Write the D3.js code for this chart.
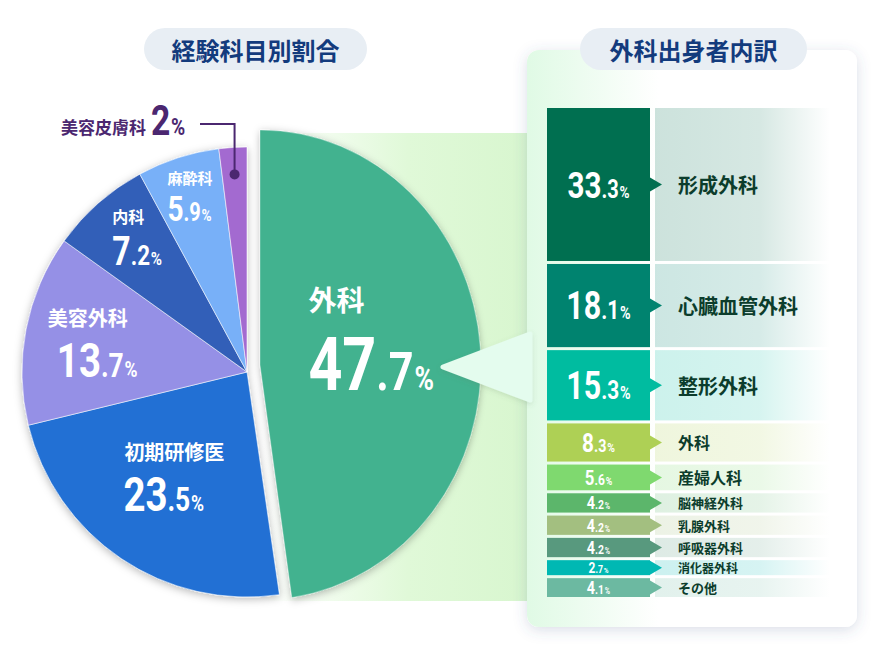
<!DOCTYPE html>
<html><head><meta charset="utf-8">
<script src="https://cdn.jsdelivr.net/npm/d3@7"></script>
<style>
html,body{margin:0;padding:0;background:#fff;}
svg{display:block;font-family:"Noto Sans CJK JP","Noto Sans",sans-serif;}
</style></head><body>
<svg id="chart" width="880" height="660"></svg>
<script>
// ---------- data ----------
const titleLeft = "経験科目別割合";
const titleRight = "外科出身者内訳";
const pieCategories = ["外科", "初期研修医", "美容外科", "内科", "麻酔科", "美容皮膚科"];
const pieValues = [47.7, 23.5, 13.7, 7.2, 5.9, 2];
const pieColors = ["#42b28f", "#2170d4", "#9590e6", "#325eb8", "#78b0f8", "#a36ad0"];
const subCategories = ["形成外科", "心臓血管外科", "整形外科", "外科", "産婦人科", "脳神経外科", "乳腺外科", "呼吸器外科", "消化器外科", "その他"];
const subValues = [33.3, 18.1, 15.3, 8.3, 5.6, 4.2, 4.2, 4.2, 2.7, 4.1];
const subColors = ["#006f50", "#00836f", "#00bca0", "#aed055", "#7fd96f", "#5cb66b", "#a3bf80", "#58997e", "#00b8b3", "#6cb9a1"];

// ---------- styles ----------
const NUMFONT = "Roboto, 'Noto Sans', sans-serif";
const NUM_SX = 0.8;
const pieLabelStyle = [
  {r: 122, lx: -66, ly: -45, nx: -66, ny: 34, ls: 28, ns: [74, 54, 33]},
  {r: 128, lx: -51, ly: -18, nx: -52, ny: 33, ls: 20, ns: [48, 33, 22]},
  {r: 157, lx: -45, ly: -16, nx: -36, ny: 35, ls: 20, ns: [48, 33, 22]},
  {r: 178, lx: -17, ly: -15.5, nx: -17, ny: 26.5, ls: 16, ns: [40, 28, 19]},
  {r: 185, lx: -23, ly: -12, nx: -23, ny: 25, ls: 15, ns: [35, 25, 17]},
  {r: 198}
];
const subNumSize = [[37,25,17],[38,26,18],[38,26,18],[26,18,13],[21,15,11],[18,13,9],[18,13,9],[18,13,9],[15,11,8],[18,13,9]];
const subLabelSize = [20, 20, 20, 16, 16, 13, 13, 13, 12, 13];

const svg = d3.select("#chart");
const defs = svg.append("defs");

function addShadow(id, dy, sd, color, op) {
  const f = defs.append("filter").attr("id", id).attr("x", "-20%").attr("y", "-20%").attr("width", "140%").attr("height", "140%");
  f.append("feDropShadow").attr("dx", 0).attr("dy", dy).attr("stdDeviation", sd)
    .attr("flood-color", color).attr("flood-opacity", op);
}
addShadow("shPie", 2, 4, "#000", 0.28);
addShadow("shPanel", 3, 7, "#4a5a8a", 0.2);
addShadow("shSmall", 2, 2.5, "#5a7a60", 0.18);

function linGrad(id, stops) {
  const g = defs.append("linearGradient").attr("id", id).attr("x1", 0).attr("x2", 1).attr("y1", 0).attr("y2", 0);
  stops.forEach(s => g.append("stop").attr("offset", s[0]).attr("stop-color", s[1]).attr("stop-opacity", s[2] == null ? 1 : s[2]));
}
linGrad("gBand", [[0, "#ffffff"], [0.55, "#e0f9d8"], [1, "#d8f6cf"]]);
linGrad("gPanel", [[0, "#e0fae5"], [0.4, "#ffffff"]]);

function pct(g, x, y, v, sizes, anchor, color) {
  const parts = String(v).split(".");
  const t = g.append("text")
    .attr("transform", `translate(${x},${y}) scale(${NUM_SX},1)`)
    .attr("text-anchor", anchor).attr("fill", color)
    .attr("font-family", NUMFONT).attr("font-weight", 700);
  t.append("tspan").attr("font-size", sizes[0]).text(parts[0]);
  if (parts[1]) t.append("tspan").attr("font-size", sizes[1]).text("." + parts[1]);
  t.append("tspan").attr("font-size", sizes[2]).attr("dx", 1).text("%");
  return t;
}

// ---------- band behind exploded slice ----------
svg.append("rect").attr("x", 262).attr("y", 133).attr("width", 266).attr("height", 468).attr("fill", "url(#gBand)");

// ---------- right panel ----------
svg.append("rect").attr("x", 527).attr("y", 50).attr("width", 330).attr("height", 577).attr("rx", 12)
  .attr("fill", "#fff").attr("filter", "url(#shPanel)");
svg.append("rect").attr("x", 527).attr("y", 50).attr("width", 330).attr("height", 577).attr("rx", 12)
  .attr("fill", "url(#gPanel)");

// ---------- pie ----------
const pieData = pieCategories.map((c, i) => ({c, v: pieValues[i], col: pieColors[i], i}));
const arcs = d3.pie().sort(null).value(d => d.v).startAngle(0).endAngle(2 * Math.PI)(pieData);
const cx = 247, cy = 372, R = 225;
const arc = d3.arc().innerRadius(0).outerRadius(R);
const gPie = svg.append("g").attr("transform", `translate(${cx},${cy})`);
gPie.append("g").attr("filter", "url(#shPie)")
  .selectAll("path").data(arcs.slice(1)).join("path")
  .attr("d", arc).attr("fill", d => d.data.col)
  .attr("stroke", "rgba(255,255,255,0.55)").attr("stroke-width", 1);

// exploded slice
const ex = {x: 260, y: 365, R: 235, sx: 0.94};
const arcEx = d3.arc().innerRadius(0).outerRadius(ex.R);
svg.append("g").attr("transform", `translate(${ex.x},${ex.y}) scale(${ex.sx},1)`).attr("filter", "url(#shPie)")
  .selectAll("path").data(arcs.slice(0, 1)).join("path")
  .attr("d", arcEx).attr("fill", d => d.data.col)
  .attr("stroke", "rgba(255,255,255,0.35)").attr("stroke-width", 1);

// callout triangle
svg.append("path")
  .attr("d", d3.line()([[443, 367], [530, 334], [530, 400]]) + "Z")
  .attr("fill", "#e4fcee").attr("stroke", "#e4fcee").attr("stroke-width", 5).attr("stroke-linejoin", "round")
  .attr("filter", "url(#shSmall)");

// pie labels
arcs.forEach((a, i) => {
  const st = pieLabelStyle[i];
  if (i === pieCategories.length - 1) return;
  const la = d3.arc().innerRadius(st.r).outerRadius(st.r);
  let [px, py] = la.centroid(a);
  if (i === 0) { px = ex.x + px * ex.sx; py = ex.y + py; } else { px += cx; py += cy; }
  svg.append("text").attr("x", px + st.lx).attr("y", py + st.ly)
    .attr("fill", "#fff").attr("font-size", st.ls).attr("font-weight", 700).text(a.data.c);
  pct(svg, px + st.nx, py + st.ny, a.data.v, st.ns, "start", "#fff");
});

// small-slice annotation
{
  const a = arcs[arcs.length - 1];
  const st = pieLabelStyle[arcs.length - 1];
  const la = d3.arc().innerRadius(st.r).outerRadius(st.r);
  const [dx, dy] = la.centroid(a);
  const px = cx + dx, py = cy + dy;
  const col = "#4b2770";
  svg.append("path").attr("d", d3.line()([[px, py], [px, 124], [200, 124]]))
    .attr("fill", "none").attr("stroke", col).attr("stroke-width", 2);
  svg.append("circle").attr("cx", px).attr("cy", py).attr("r", 5).attr("fill", col);
  svg.append("text").attr("x", 146).attr("y", 134).attr("text-anchor", "end")
    .attr("fill", col).attr("font-size", 17).attr("font-weight", 700).text(a.data.c);
  pct(svg, 151, 135, a.data.v, [42, 30, 24], "start", col);
}

// ---------- titles ----------
function pill(cxp, w, text) {
  svg.append("rect").attr("x", cxp - w / 2).attr("y", 28).attr("width", w).attr("height", 42).attr("rx", 21)
    .attr("fill", "#e8eef4");
  svg.append("text").attr("x", cxp).attr("y", 49).attr("text-anchor", "middle").attr("dominant-baseline", "central")
    .attr("fill", "#133b7d").attr("font-size", 24).attr("font-weight", 700).text(text);
}
pill(255.5, 223, titleLeft);
pill(693.5, 227, titleRight);

// ---------- breakdown bars ----------
const top0 = 108, bottom0 = 597, gap = 3, minH = 15;
const avail = bottom0 - top0 - gap * (subValues.length - 1);
const k0 = avail / d3.sum(subValues);
const small = subValues.filter(v => v * k0 < minH);
const hScale = d3.scaleLinear()
  .domain([0, d3.sum(subValues) - d3.sum(small)])
  .range([0, avail - minH * small.length]);
let yy = top0;
const rows = subValues.map((v, i) => {
  const h = Math.max(minH, hScale(v));
  const r = {v, i, y: yy, h, c: subColors[i], name: subCategories[i]};
  yy += h + gap;
  return r;
});
const bx0 = 547, bw = 103, lx0 = 655, lx1 = 830;
rows.forEach(r => {
  linGrad("gRow" + r.i, [[0, r.c, 0.2], [0.6, r.c, 0.16], [1, r.c, 0]]);
});
const gRows = svg.append("g");
gRows.selectAll("rect.lab").data(rows).join("rect").attr("class", "lab")
  .attr("x", lx0).attr("y", d => d.y).attr("width", lx1 - lx0).attr("height", d => d.h)
  .attr("fill", d => `url(#gRow${d.i})`);
gRows.selectAll("rect.blk").data(rows).join("rect").attr("class", "blk")
  .attr("x", bx0).attr("y", d => d.y).attr("width", bw).attr("height", d => d.h)
  .attr("fill", d => d.c);
gRows.selectAll("path.arr").data(rows).join("path").attr("class", "arr")
  .attr("d", d => { const m = d.y + d.h / 2; return d3.line()([[bx0 + bw, m - 7], [bx0 + bw + 12, m], [bx0 + bw, m + 7]]) + "Z"; })
  .attr("fill", d => d.c);
rows.forEach(r => {
  const s = subNumSize[r.i];
  pct(gRows, bx0 + bw / 2, r.y + r.h / 2 + s[0] * 0.355, r.v, s, "middle", "#fff");
  gRows.append("text").attr("x", 678).attr("y", r.y + r.h / 2).attr("dominant-baseline", "central")
    .attr("fill", "#0c3d2c").attr("font-size", subLabelSize[r.i]).attr("font-weight", 700).text(r.name);
});
</script>
</body></html>
